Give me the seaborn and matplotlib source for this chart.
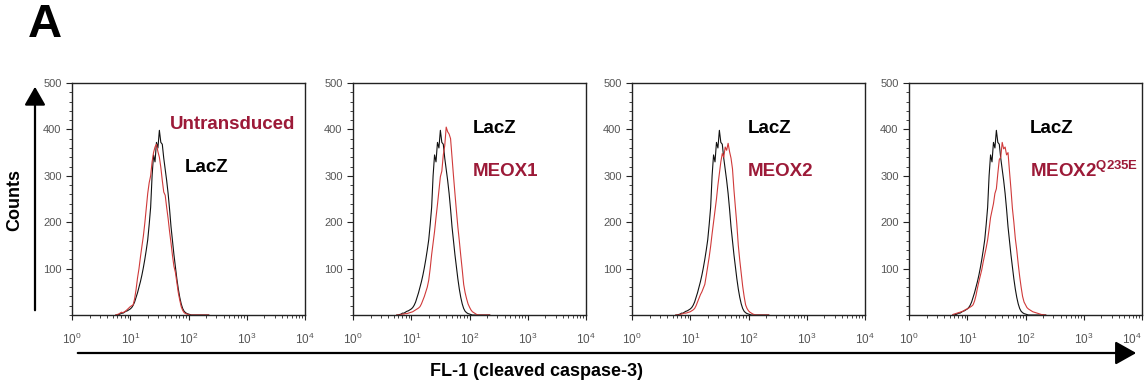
import numpy as np
import pandas as pd
import matplotlib
matplotlib.use("Agg")
import matplotlib.pyplot as plt
from matplotlib import ticker
import seaborn as sns

# ---- data (log10 fluorescence bins, counts) ----
log_bins = [0.750, 0.775, 0.800, 0.825, 0.850, 0.875, 0.900, 0.925, 0.950, 0.975,
            1.000, 1.025, 1.050, 1.075, 1.100, 1.125, 1.150, 1.175, 1.200, 1.225,
            1.250, 1.275, 1.300, 1.325, 1.350, 1.375, 1.400, 1.425, 1.450, 1.475,
            1.500, 1.525, 1.550, 1.575, 1.600, 1.625, 1.650, 1.675, 1.700, 1.725,
            1.750, 1.775, 1.800, 1.825, 1.850, 1.875, 1.900, 1.925, 1.950, 1.975,
            2.000, 2.025, 2.050, 2.075, 2.100, 2.125, 2.150, 2.175, 2.200, 2.225,
            2.250, 2.275, 2.300, 2.325, 2.350]

lacz = [0, 0, 1, 2, 4, 4, 6, 8, 9, 11,
        13, 16, 21, 28, 38, 48, 60, 72, 86, 102,
        120, 140, 162, 195, 232, 300, 345, 330, 372, 360,
        398, 372, 368, 338, 314, 290, 262, 228, 190, 160,
        130, 104, 78, 56, 38, 24, 14, 8, 5, 3,
        2, 1, 0, 0, 0, 0, 0, 0, 0, 0,
        0, 0, 0, 0, 0]

untransduced = [0, 1, 2, 4, 6, 5, 7, 9, 12, 15,
                18, 20, 22, 35, 55, 80, 100, 125, 148, 170,
                198, 230, 262, 285, 300, 330, 350, 362, 368, 352,
                340, 318, 290, 265, 258, 232, 208, 180, 155, 128,
                105, 92, 70, 48, 32, 18, 10, 5, 3, 2,
                1, 0, 0, 0, 0, 0, 0, 0, 0, 0,
                0, 0, 0, 0, 0]

meox1 = [0, 0, 0, 1, 2, 2, 3, 3, 4, 5,
         6, 7, 9, 11, 13, 15, 18, 24, 32, 40,
         50, 60, 75, 100, 130, 155, 180, 210, 238, 268,
         298, 310, 345, 365, 405, 395, 390, 380, 340, 300,
         262, 225, 190, 160, 128, 98, 66, 48, 35, 24,
         17, 11, 7, 5, 3, 1, 0, 0, 0, 0,
         0, 0, 0, 0, 0]

meox2 = [0, 0, 0, 1, 2, 3, 4, 4, 5, 6,
         7, 9, 11, 14, 20, 28, 36, 44, 50, 58,
         66, 85, 105, 125, 148, 175, 200, 225, 250, 280,
         305, 330, 348, 340, 362, 355, 370, 352, 338, 315,
         270, 232, 195, 150, 118, 90, 62, 40, 22, 14,
         9, 6, 4, 2, 1, 0, 0, 0, 0, 0,
         0, 0, 0, 0, 0]

meox2_q235e = [1, 2, 3, 4, 5, 6, 7, 8, 10, 12,
               13, 15, 17, 19, 22, 30, 42, 58, 72, 85,
               98, 115, 130, 145, 162, 185, 210, 225, 240, 262,
               272, 305, 335, 340, 372, 358, 362, 345, 350, 310,
               272, 230, 200, 165, 140, 110, 83, 60, 40, 28,
               22, 16, 13, 11, 9, 7, 6, 5, 4, 3,
               2, 1, 1, 0, 0]

panel_samples = ["Untransduced", "MEOX1", "MEOX2", "MEOX2Q235E"]
panel_labels = ["Untransduced", "MEOX1", "MEOX2", r"MEOX2$^{\mathbf{Q235E}}$"]
sample_counts = {"Untransduced": untransduced, "MEOX1": meox1,
                 "MEOX2": meox2, "MEOX2Q235E": meox2_q235e}
y_ticks = [100, 200, 300, 400, 500]
x_decades = [1, 10, 100, 1000, 10000]

# ---- style ----
sns.set_style("ticks")
plt.rcParams["font.family"] = ["Liberation Sans", "DejaVu Sans"]
plt.rcParams["mathtext.fontset"] = "custom"
plt.rcParams["mathtext.rm"] = "Liberation Sans"
plt.rcParams["mathtext.bf"] = "Liberation Sans:bold"
plt.rcParams["mathtext.default"] = "regular"
plt.rcParams["text.color"] = "black"

dark_red = "#9c1a38"
line_red = "#d03a3a"
tick_grey = "#555555"

fig = plt.figure(figsize=(11.47, 3.91), dpi=100)
W, H = 1147, 391
lefts_px = [72, 353, 632, 909]
ax_w, ax_top, ax_bot = 233, 83, 315

fl = [10 ** v for v in log_bins]

for i, (samp, lab) in enumerate(zip(panel_samples, panel_labels)):
    ax = fig.add_axes([lefts_px[i] / W, (H - ax_bot) / H, ax_w / W, (ax_bot - ax_top) / H])
    df = pd.DataFrame({
        "fl": fl * 2,
        "count": lacz + sample_counts[samp],
        "sample": ["LacZ"] * len(fl) + [samp] * len(fl),
    })
    sns.lineplot(data=df, x="fl", y="count", hue="sample",
                 palette={"LacZ": "#111111", samp: line_red},
                 linewidth=0.8, legend=False, ax=ax, estimator=None)
    ax.set_xscale("log")
    ax.set_xlim(1, 10000)
    ax.set_ylim(0, 500)
    ax.set_xlabel("")
    ax.set_ylabel("")
    ax.xaxis.set_major_locator(ticker.FixedLocator(x_decades))
    ax.xaxis.set_major_formatter(ticker.LogFormatterSciNotation())
    ax.xaxis.set_minor_locator(ticker.LogLocator(base=10, subs=np.arange(2, 10)))
    ax.xaxis.set_minor_formatter(ticker.NullFormatter())
    ax.yaxis.set_major_locator(ticker.FixedLocator(y_ticks))
    ax.yaxis.set_minor_locator(ticker.MultipleLocator(20))
    ax.tick_params(axis="y", which="major", length=4.5, width=0.8,
                   labelsize=8, labelcolor=tick_grey, color="#222222", pad=3)
    ax.tick_params(axis="x", which="major", length=3.5, width=0.8,
                   labelsize=8.5, labelcolor=tick_grey, color="#222222", pad=8.5)
    ax.tick_params(axis="both", which="minor", length=2.4, width=0.6, color="#222222")
    for sp in ax.spines.values():
        sp.set_visible(True)
        sp.set_linewidth(1.0)
        sp.set_color("#222222")

    if i == 0:
        ax.text(0.42, 0.819, lab, transform=ax.transAxes, color=dark_red,
                fontsize=13.5, fontweight="bold", va="center", ha="left")
        ax.text(0.485, 0.634, "LacZ", transform=ax.transAxes, color="black",
                fontsize=13.5, fontweight="bold", va="center", ha="left")
    else:
        xs = {1: 0.515, 2: 0.498, 3: 0.519}[i]
        ax.text(xs, 0.806, "LacZ", transform=ax.transAxes, color="black",
                fontsize=13.5, fontweight="bold", va="center", ha="left")
        ax.text(xs, 0.62, lab, transform=ax.transAxes, color=dark_red,
                fontsize=13.5, fontweight="bold", va="center", ha="left")
    if i == 3:
        fig.canvas.draw()
        labels = ax.get_xticklabels()
        labels[-1].set_horizontalalignment("right")

# Counts arrow
fig.add_artist(matplotlib.patches.FancyArrowPatch(
    (35 / W, (H - 313) / H), (35 / W, (H - 84) / H), transform=fig.transFigure,
    arrowstyle="-|>,head_length=7,head_width=4", mutation_scale=1.6,
    color="black", linewidth=1.6))
fig.text(15 / W, (H - 200) / H, "Counts", rotation=90, fontsize=13,
         fontweight="bold", ha="center", va="center", color="black")

# FL-1 arrow
fig.add_artist(matplotlib.patches.FancyArrowPatch(
    (75 / W, (H - 353) / H), (1139 / W, (H - 353) / H), transform=fig.transFigure,
    arrowstyle="-|>,head_length=8,head_width=4.5", mutation_scale=1.6,
    color="black", linewidth=1.6))
fig.text(537 / W, (H - 372) / H, "FL-1 (cleaved caspase-3)", fontsize=13,
         fontweight="bold", ha="center", va="center", color="black")

fig.text(45 / W, (H - 25) / H, "A", fontsize=34, fontweight="bold",
         ha="center", va="center", color="black")

fig.savefig("out.png", dpi=100, facecolor="white")
